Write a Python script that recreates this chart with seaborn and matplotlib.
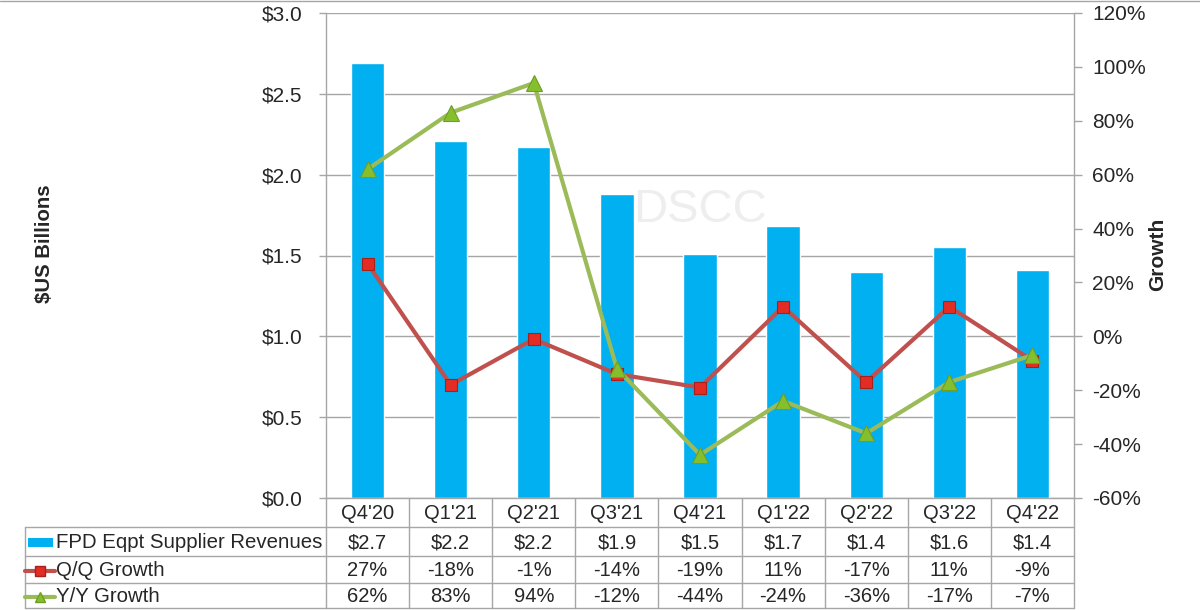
import numpy as np
import pandas as pd
import seaborn as sns
import matplotlib
matplotlib.use("Agg")
import matplotlib.pyplot as plt
import matplotlib.transforms as mtransforms
from matplotlib.lines import Line2D
from matplotlib.patches import Rectangle

# Data
quarters = ["Q4'20", "Q1'21", "Q2'21", "Q3'21", "Q4'21", "Q1'22", "Q2'22", "Q3'22", "Q4'22"]
revenues = [2.69, 2.21, 2.17, 1.88, 1.51, 1.68, 1.40, 1.55, 1.41]
revenue_labels = ["$2.7", "$2.2", "$2.2", "$1.9", "$1.5", "$1.7", "$1.4", "$1.6", "$1.4"]
qq_growth = [27, -18, -1, -14, -19, 11, -17, 11, -9]
yy_growth = [62, 83, 94, -12, -44, -24, -36, -17, -7]

BLUE = "#00B0F0"
RED = "#C0504D"
RED_MK = "#E32C24"
GREEN = "#9BBB59"
GREEN_MK = "#86BF2E"
GRID = "#A6A6A6"

sns.set_theme(style="white")
plt.rcParams["font.family"] = ["Liberation Sans", "DejaVu Sans"]

W, H = 1200, 610
fig = plt.figure(figsize=(12, 6.1), dpi=100)
L, R, T, B = 326, 1074, 13, 498
ax = fig.add_axes([L / W, 1 - B / H, (R - L) / W, (B - T) / H])

df = pd.DataFrame({"quarter": quarters, "rev": revenues})
sns.barplot(data=df, x="quarter", y="rev", color=BLUE, saturation=1, width=0.4, ax=ax, zorder=2)
ax.set_xlim(-0.5, len(quarters) - 0.5)
ax.set_ylim(0, 3.0)
ax.set_yticks(np.arange(0, 3.01, 0.5))
ax.set_yticklabels([f"${v:.1f}" for v in np.arange(0, 3.01, 0.5)], fontsize=15)
ax.set_xticks([])
ax.set_xlabel("")
ax.set_ylabel("")
ax.yaxis.grid(True, color=GRID, linewidth=1, zorder=0)
ax.set_axisbelow(True)
ax.tick_params(axis="y", length=5, width=1, color=GRID, left=True, pad=12)
for s in ["left", "bottom"]:
    ax.spines[s].set_color(GRID)
    ax.spines[s].set_linewidth(1)
ax.spines["top"].set_visible(False)
ax.spines["right"].set_visible(False)

# watermark
ax.text(0.5, 0.594, "DSCC", transform=ax.transAxes, ha="center", va="center",
        fontsize=34, color="#EEEEEE", zorder=1)

ax2 = ax.twinx()
x = np.arange(len(quarters))
sns.lineplot(x=x, y=qq_growth, ax=ax2, color=RED, linewidth=3, marker="s", markersize=9,
             markerfacecolor=RED_MK, markeredgecolor="#A8201A", markeredgewidth=0.8)
sns.lineplot(x=x, y=yy_growth, ax=ax2, color=GREEN, linewidth=3, marker="^", markersize=11,
             markerfacecolor=GREEN_MK, markeredgecolor="#6E9E24", markeredgewidth=0.8)
ax2.set_ylim(-60, 120)
ax2.set_yticks(np.arange(-60, 121, 20))
ax2.set_yticklabels([f"{v}%" for v in np.arange(-60, 121, 20)], fontsize=15)
ax2.tick_params(axis="y", length=6, width=1, color=GRID, right=True, pad=7)
ax2.set_ylabel("")
for s in ["left", "bottom", "top"]:
    ax2.spines[s].set_visible(False)
ax2.spines["right"].set_color(GRID)
ax2.spines["right"].set_linewidth(1)

fig.text(45 / W, 1 - 244 / H, "$US Billions", rotation=90, ha="center", va="center",
         fontsize=14.7, fontweight="bold")
fig.text(1158 / W, 1 - 254 / H, "Growth", rotation=90, ha="center", va="center",
         fontsize=15, fontweight="bold")

# thin frame line at the top of the image
fig.add_artist(Line2D([0, 1], [1 - 0.5 / H, 1 - 0.5 / H], transform=fig.transFigure,
                      color=GRID, linewidth=1))

# data table below the chart
bt = mtransforms.blended_transform_factory(ax.transData, fig.transFigure)
ft = fig.transFigure
rows_y = [498, 527, 556, 583, 608]
n = len(quarters)
for k in range(n + 1):
    fig.add_artist(Line2D([k - 0.5, k - 0.5], [1 - rows_y[0] / H, 1 - rows_y[-1] / H],
                          transform=bt, color=GRID, linewidth=1))
for yy in rows_y[1:]:
    fig.add_artist(Line2D([25 / W, R / W], [1 - yy / H, 1 - yy / H], transform=ft,
                          color=GRID, linewidth=1))
fig.add_artist(Line2D([25 / W, 25 / W], [1 - rows_y[1] / H, 1 - rows_y[-1] / H],
                      transform=ft, color=GRID, linewidth=1))

table_rows = [
    quarters,
    revenue_labels,
    [f"{v}%" for v in qq_growth],
    [f"{v}%" for v in yy_growth],
]
for r, vals in enumerate(table_rows):
    yc = 1 - ((rows_y[r] + rows_y[r + 1]) / 2 + 1) / H
    for i, v in enumerate(vals):
        fig.text(i, yc, v, transform=bt, ha="center", va="center", fontsize=14.5)

names = ["FPD Eqpt Supplier Revenues", "Q/Q Growth", "Y/Y Growth"]
for r, name in enumerate(names):
    yc = 1 - ((rows_y[r + 1] + rows_y[r + 2]) / 2 + 1) / H
    fig.text(56 / W, yc, name, ha="left", va="center", fontsize=14.7)

# legend keys in the table
y1 = 1 - ((rows_y[1] + rows_y[2]) / 2 + 1) / H
fig.add_artist(Rectangle((28 / W, y1 - 4.5 / H), 25 / W, 9 / H, transform=ft,
                         facecolor=BLUE, edgecolor="none"))
y2 = 1 - ((rows_y[2] + rows_y[3]) / 2 + 1) / H
fig.add_artist(Line2D([25 / W, 40 / W, 55 / W], [y2, y2, y2], transform=ft, color=RED,
                      linewidth=3, marker="s", markevery=[1], markersize=6.5,
                      markerfacecolor=RED_MK, markeredgecolor="#A8201A"))
y3 = 1 - ((rows_y[3] + rows_y[4]) / 2 + 1) / H
fig.add_artist(Line2D([25 / W, 40 / W, 55 / W], [y3, y3, y3], transform=ft, color=GREEN,
                      linewidth=3, marker="^", markevery=[1], markersize=7.5,
                      markerfacecolor=GREEN_MK, markeredgecolor="#6E9E24"))

fig.savefig("out.png", dpi=100)
